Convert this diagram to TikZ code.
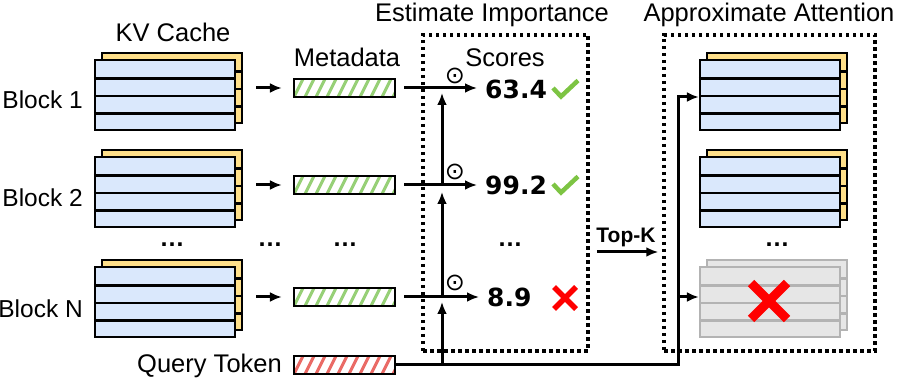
\documentclass[tikz,border=0pt]{standalone}
\usepackage{fontspec}
\setmainfont{Liberation Sans}
\newfontfamily\scorefont{DejaVu Sans}
\usetikzlibrary{arrows.meta,calc}
\definecolor{kvblue}{HTML}{DAE8FC}
\definecolor{kvyellow}{HTML}{FFE08A}
\definecolor{ghostfill}{HTML}{E6E6E6}
\definecolor{ghostline}{HTML}{B3B3B3}
\definecolor{hatchgreen}{HTML}{97D077}
\definecolor{hatchred}{HTML}{EA6B66}
\definecolor{checkgreen}{HTML}{7DC443}
\definecolor{xred}{HTML}{FF0000}
\newcommand{\kvstack}[4]{%
  \node[#4back] (#1b) at (#2+7,#3+7) {};
  \foreach \k in {1,2,3} \draw[#4rule] ([yshift=\k*17.5pt]#1b.south west) -- ([yshift=\k*17.5pt]#1b.south east);
  \node[#4front] (#1) at (#2,#3) {};
  \foreach \k in {1,2,3} \draw[#4rule] ([yshift=\k*17.5pt]#1.south west) -- ([yshift=\k*17.5pt]#1.south east);
}
\tikzset{
  lbl/.style={font=\fontsize{25.5}{30}\selectfont, inner sep=0pt},
  blbl/.style={font=\fontsize{24.5}{30}\selectfont, inner sep=0pt, anchor=base east},
  score/.style={font=\scorefont\bfseries\fontsize{25}{30}\selectfont, inner sep=0pt, anchor=base west},
  arr/.style={line width=3pt, -{Latex[length=12pt,width=10pt]}},
  blk/.style={line width=2.3pt, minimum width=140pt, minimum height=70pt, inner sep=0pt},
  kvfront/.style={blk, draw=black, fill=kvblue},
  kvback/.style={blk, draw=black, fill=kvyellow},
  kvrule/.style={line width=2.3pt, draw=black},
  ghfront/.style={blk, draw=ghostline, fill=ghostfill},
  ghback/.style={blk, draw=ghostline, fill=ghostfill},
  ghrule/.style={line width=2.3pt, draw=ghostline},
  bar/.style={draw=black, fill=white, line width=2.2pt, minimum width=101pt, minimum height=18pt, inner sep=0pt,
    path picture={\foreach \i in {-2,...,10}{\draw[line width=3pt,#1] ([xshift=\i*11pt]path picture bounding box.south west) -- ++(9pt,18pt);}}},
  dotbox/.style={draw=black, line width=3.5pt, dash pattern=on 3.5pt off 3.5pt, inner sep=0pt},
  dots/.style={font=\bfseries\fontsize{25}{30}\selectfont, inner sep=0pt},
  odotlbl/.style={font=\scorefont\fontsize{24}{24}\selectfont, inner sep=0pt},
}
\begin{document}
\begin{tikzpicture}[x=1pt,y=1pt]
\useasboundingbox (0,0) rectangle (897,380);

% dotted boxes
\node[dotbox, minimum width=165pt, minimum height=316pt] (est) at (505.5,187) {};
\node[dotbox, minimum width=211pt, minimum height=316pt] (app) at (769.5,187) {};

% titles
\node[lbl, anchor=base] (tEst) at (492,358) {Estimate Importance};
\node[lbl, anchor=base] (tApp) at (769,358) {Approximate Attention};
\node[lbl, anchor=base] (tKV) at (173,338) {KV Cache};
\node[lbl, anchor=base] (tMeta) at (347,313) {Metadata};
\node[lbl, anchor=base] (tSc) at (505,313) {Scores};

% KV cache blocks
\kvstack{kv1}{165}{285}{kv}
\kvstack{kv2}{165}{188}{kv}
\kvstack{kvN}{165}{78}{kv}
\node[blbl] (l1) at (83,271) {Block 1};
\node[blbl] (l2) at (83,173) {Block 2};
\node[blbl] (lN) at (83,62) {Block N};

% metadata bars
\node[bar=hatchgreen] (m1) at (344.5,292) {};
\node[bar=hatchgreen] (m2) at (344.5,195) {};
\node[bar=hatchgreen] (mN) at (344.5,83) {};
\node[bar=hatchred] (q) at (344.5,15) {};
\node[lbl, anchor=base east] (lq) at (282,7) {Query Token};

% dots
\node[dots] (d1) at (172,135) {…};
\node[dots] (d2) at (270,135) {…};
\node[dots] (d3) at (345,135) {…};
\node[dots] (d4) at (510,135) {…};
\node[dots] (d5) at (777,135) {…};

% KV -> metadata arrows
\draw[arr] ($(kv1b.east |- m1.west)+(13,0)$) -- ($(m1.west)+(-11,0)$);
\draw[arr] ($(kv2b.east |- m2.west)+(13,0)$) -- ($(m2.west)+(-11,0)$);
\draw[arr] ($(kvNb.east |- mN.west)+(13,0)$) -- ($(mN.west)+(-11,0)$);

% scores
\node[score] (s1) at (485,281) {63.4};
\node[score] (s2) at (485,185) {99.2};
\node[score] (sN) at (487,73) {8.9};
\draw[arr] ($(m1.east)+(8,0)$) -- ($(s1.west |- m1.east)+(-8,0)$);
\draw[arr] ($(m2.east)+(8,0)$) -- ($(s2.west |- m2.east)+(-8,0)$);
\draw[arr] ($(mN.east)+(8,0)$) -- ($(sN.west |- mN.east)+(-8,0)$);
\node[odotlbl] (o1) at (455,304) {⊙};
\node[odotlbl] (o2) at (455,208) {⊙};
\node[odotlbl] (oN) at (455,97) {⊙};

% check marks and cross
\draw[checkgreen, line width=4.5pt] (553,292) -- (561,283.5) -- (578,299.5);
\draw[checkgreen, line width=4.5pt] (553,196) -- (561,187.5) -- (578,203.5);
\draw[xred, line width=5.5pt] (554,71) -- (576,93) (554,93) -- (576,71);

% vertical query arrows
\coordinate (vx) at (442,0);
\draw[arr] (vx |- q.east) -- ($(vx |- mN.east)+(0,-5)$);
\draw[arr] (vx |- mN.east) -- ($(vx |- m2.east)+(0,-7)$);
\draw[arr] (vx |- m2.east) -- ($(vx |- m1.east)+(0,-5)$);

% approximate attention blocks
\kvstack{a1}{770}{285}{kv}
\kvstack{a2}{770}{188}{kv}
\kvstack{g}{770}{78}{gh}
\draw[xred, line width=9pt] (751,61) -- (787,97) (751,97) -- (787,61);

% query line to approximate attention
\coordinate (qc) at (678,15);
\draw[arr] (q.east) -- (qc) |- ($(a1.west)+(0,-2)$);
\draw[arr] ($(qc |- g.west)+(0,5)$) -- ($(g.west)+(0,5)$);

% Top-K
\draw[arr] ($(est.east)+(7,-59)$) -- ($(app.west)+(-4,-59)$);
\node[font=\bfseries\fontsize{21}{25}\selectfont, inner sep=0pt, anchor=base] (tk) at (626,137) {Top-K};
\end{tikzpicture}
\end{document}
